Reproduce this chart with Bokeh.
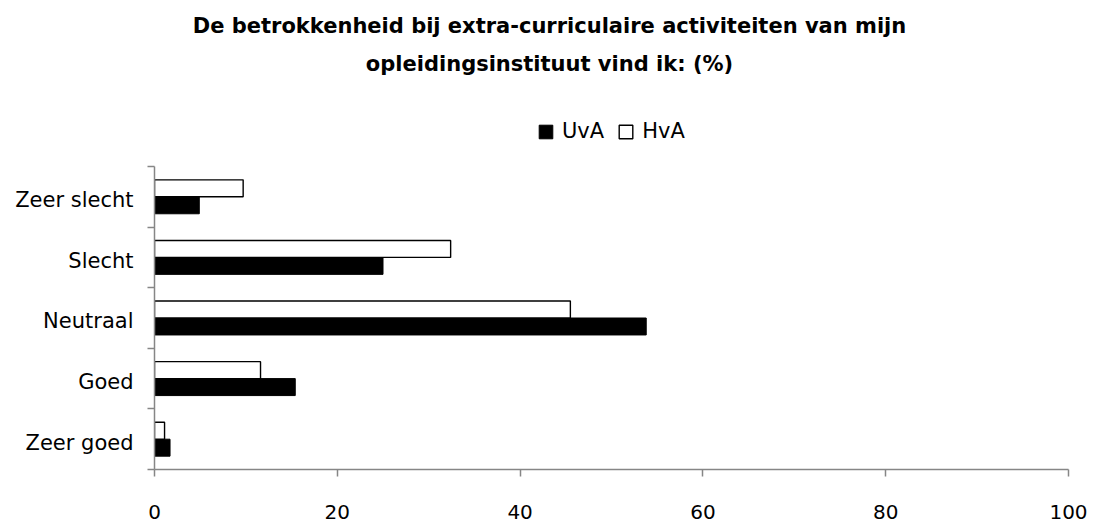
from bokeh.plotting import figure
from bokeh.models import (Range1d, FixedTicker, Label, Legend, LegendItem,
                          ColumnDataSource)
from bokeh.transform import dodge
from bokeh.embed import file_html
from bokeh.resources import INLINE

# ---- data ----
categories = ["Zeer slecht", "Slecht", "Neutraal", "Goed", "Zeer goed"]
uva = [4.9, 25.0, 53.8, 15.4, 1.7]
hva = [9.7, 32.4, 45.5, 11.6, 1.1]
series_names = ["UvA", "HvA"]
x_ticks = [0, 20, 40, 60, 80, 100]
title_lines = ["De betrokkenheid bij extra-curriculaire activiteiten van mijn",
               "opleidingsinstituut vind ik: (%)"]

FONT = "DejaVu Sans"
AXIS_GRAY = "#868686"
W, H = 1094, 527
LEFT, RIGHT_EDGE = 154, 1068        # frame left / right in page pixels
AXIS_Y, PLOT_TOP = 469, 166         # x-axis and top of category area (page px)
LABEL_SHIFT = 0.055                 # category labels sit slightly below centre

n = len(categories)
# frame spans the whole height above the x axis; the category axis only covers 0..n
y_max = n * AXIS_Y / (AXIS_Y - PLOT_TOP)

ypos = [n - 1 - i + 0.5 for i in range(n)]
src = ColumnDataSource(dict(cat=categories, y=ypos, uva=uva, hva=hva))

p = figure(width=W, height=H, output_backend="svg", toolbar_location=None,
           x_range=Range1d(0, 100), y_range=Range1d(0, y_max),
           min_border_left=LEFT, min_border_right=W - RIGHT_EDGE, min_border_top=0,
           min_border_bottom=H - AXIS_Y)
p.outline_line_color = None
p.grid.visible = False

r_uva = p.hbar(y=dodge("y", -0.14), right="uva", left=0, height=0.28, source=src,
               fill_color="black", line_color="black", line_width=1)
r_hva = p.hbar(y=dodge("y", 0.14), right="hva", left=0, height=0.28, source=src,
               fill_color="white", line_color="black", line_width=1.4)

# x axis
xa = p.xaxis[0]
xa.ticker = FixedTicker(ticks=x_ticks, minor_ticks=[])
xa.axis_line_color = AXIS_GRAY
xa.axis_line_width = 1.5
xa.major_tick_line_color = AXIS_GRAY
xa.major_tick_line_width = 1.5
xa.major_tick_out = 7
xa.major_tick_in = 0
xa.minor_tick_line_color = None
xa.major_label_text_font = FONT
xa.major_label_text_font_size = "20px"
xa.major_label_text_color = "black"
xa.major_label_standoff = 28

# y axis: labels at category centres, ticks at category boundaries
label_pos = [y - LABEL_SHIFT for y in ypos]
ya = p.yaxis[0]
ya.bounds = (0, n)
ya.ticker = FixedTicker(ticks=label_pos, minor_ticks=list(range(n + 1)))
ya.major_label_overrides = {y: c for y, c in zip(label_pos, categories)}
ya.axis_line_color = AXIS_GRAY
ya.axis_line_width = 1.5
ya.major_tick_line_color = None
ya.major_tick_out = 0
ya.major_tick_in = 0
ya.minor_tick_line_color = AXIS_GRAY
ya.minor_tick_line_width = 1.5
ya.minor_tick_out = 7
ya.minor_tick_in = 0
ya.major_label_text_font = FONT
ya.major_label_text_font_size = "21px"
ya.major_label_text_color = "black"
ya.major_label_standoff = 14

# legend (screen position relative to the frame's lower-left corner)
legend = Legend(items=[LegendItem(label=series_names[0], renderers=[r_uva]),
                       LegendItem(label=series_names[1], renderers=[r_hva])],
                orientation="horizontal", location=(383, 326),
                glyph_width=17, glyph_height=17, label_standoff=8, spacing=13,
                padding=0, margin=0, border_line_color=None,
                background_fill_alpha=0,
                label_text_font=FONT, label_text_font_size="21px",
                label_text_color="black")
p.add_layout(legend, "center")

# two-line bold title centred on the page
for txt, yy in zip(title_lines, [AXIS_Y - 25, AXIS_Y - 63]):
    p.add_layout(Label(x=549 - LEFT, y=yy, x_units="screen", y_units="screen",
                       text=txt, text_align="center", text_baseline="middle",
                       text_font=FONT, text_font_style="bold",
                       text_font_size="21px", text_color="black"))

open("out.html", "w").write(file_html(p, INLINE))
